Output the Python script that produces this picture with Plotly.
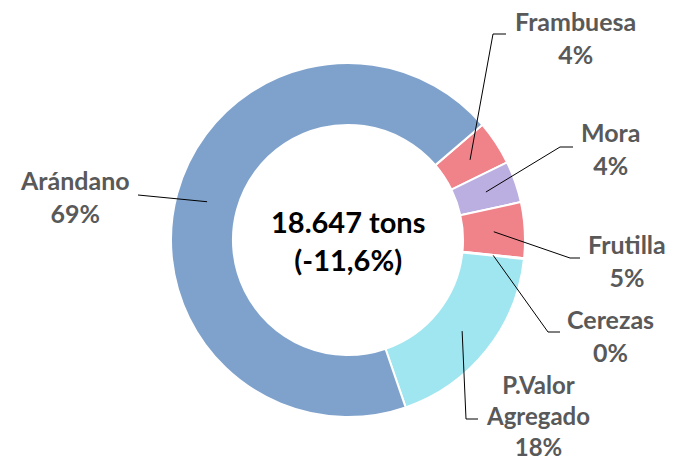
import math
import plotly.graph_objects as go

# ---- data ----
categories = ["Frambuesa", "Mora", "Frutilla", "Cerezas", "P.Valor Agregado", "Arándano"]
label_text = ["Frambuesa", "Mora", "Frutilla", "Cerezas", "P.Valor<br>Agregado", "Arándano"]
values_tons = [757, 705, 947, 15, 3356, 12867]
colors = ["#F0828A", "#BBAEE0", "#F0828A", "#C0504D", "#A0E6F0", "#7FA2CC"]
center_title = "18.647 tons"
center_change = "(-11,6%)"

# ---- layout constants (pixels) ----
W, H = 673, 463
CX, CY = 348, 240
R_OUT = 177
HOLE = 0.65
ROT = 49.4
FONT = "Lato"
LABEL_COLOR = "#595959"

# label anchor (center of text), elbow point, line end point, font size
label_layout = {
    "Frambuesa": dict(text_xy=(575, 37), elbow=(493, 34), end=(506, 34), size=25),
    "Mora": dict(text_xy=(610, 148), elbow=(560, 147), end=(573, 147), size=25),
    "Frutilla": dict(text_xy=(627, 260), elbow=(570, 258), end=(580, 258), size=25),
    "Cerezas": dict(text_xy=(610, 335), elbow=(548, 332), end=(560, 332), size=25),
    "P.Valor Agregado": dict(text_xy=(538, 415), elbow=(466, 419), end=(478, 419), size=24),
    "Arándano": dict(text_xy=(75, 197), elbow=(138, 195), end=(138, 195), size=25),
}


def px(x):
    return x / W


def py(y):
    return 1 - y / H


total = sum(values_tons)
fig = go.Figure()
fig.add_trace(go.Pie(
    labels=categories,
    values=values_tons,
    hole=HOLE,
    sort=False,
    direction="clockwise",
    rotation=ROT,
    marker=dict(colors=colors, line=dict(color="white", width=2)),
    textinfo="none",
    hoverinfo="label+percent",
    showlegend=False,
    domain=dict(x=[px(CX - R_OUT), px(CX + R_OUT)], y=[py(CY + R_OUT), py(CY - R_OUT)]),
))

annotations = []
shapes = []
cum = 0.0
r_mid = R_OUT * (1 + HOLE) / 2
for cat, lt, v in zip(categories, label_text, values_tons):
    frac = v / total
    mid_deg = ROT + 360 * (cum + frac / 2)
    cum += frac
    a = math.radians(mid_deg)
    sx = CX + r_mid * math.sin(a)
    sy = CY - r_mid * math.cos(a)
    L = label_layout[cat]
    ex, ey = L["elbow"]
    fx, fy = L["end"]
    path = f"M {px(sx)} {py(sy)} L {px(ex)} {py(ey)} L {px(fx)} {py(fy)}"
    shapes.append(dict(type="path", xref="paper", yref="paper", path=path,
                       line=dict(color="black", width=1)))
    pct = round(frac * 100)
    tx, ty = L["text_xy"]
    annotations.append(dict(
        x=px(tx), y=py(ty), xref="paper", yref="paper",
        text=f"<b>{lt}<br>{pct}%</b>", showarrow=False,
        font=dict(family=FONT, size=L["size"], color=LABEL_COLOR),
        xanchor="center", yanchor="middle", align="center", borderpad=0,
    ))

annotations.append(dict(
    x=px(CX), y=py(CY), xref="paper", yref="paper",
    text=f"<b>{center_title}<br>{center_change}</b>", showarrow=False,
    font=dict(family=FONT, size=29, color="black"),
    xanchor="center", yanchor="middle", align="center",
))

fig.update_layout(
    width=W, height=H,
    margin=dict(l=0, r=0, t=0, b=0),
    paper_bgcolor="white", plot_bgcolor="white",
    annotations=annotations, shapes=shapes,
)
fig.write_html("out.html", config={"displayModeBar": False},
               post_script="document.body.style.margin='0';")
